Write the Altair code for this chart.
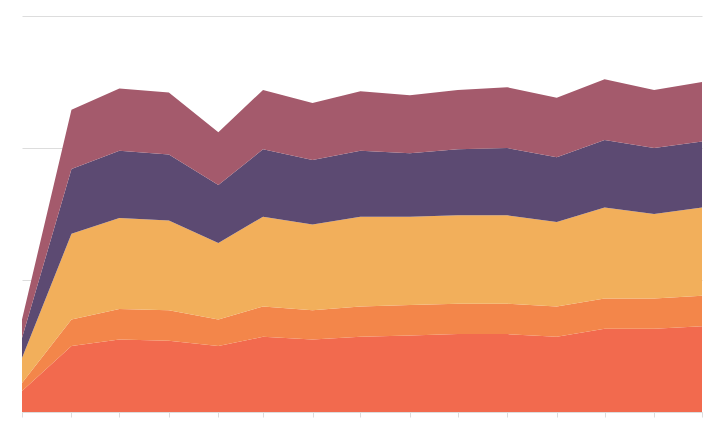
import altair as alt
import pandas as pd

dates = ["2018-10-01", "2018-11-01", "2018-12-01", "2019-01-01", "2019-02-01",
         "2019-03-01", "2019-04-01", "2019-05-01", "2019-06-01", "2019-07-01",
         "2019-08-01", "2019-09-01", "2019-10-01", "2019-11-01", "2019-12-01"]

series_names = ["A", "B", "C", "D", "E"]
series_colors = ["#f26a4e", "#f3864a", "#f2af5b", "#5c4a72", "#a45a6c"]

s_a = [16, 50, 55, 54, 50, 57, 55, 57, 58, 59, 59, 57, 63, 63, 65]
s_b = [6, 20, 23, 23, 20, 23, 22, 23, 23, 23, 23, 23, 23, 23, 23]
s_c = [19, 65, 69, 68, 58, 68, 65, 68, 67, 67, 67, 64, 69, 64, 67]
s_d = [15, 49, 51, 50, 44, 51, 49, 50, 48, 50, 51, 49, 51, 50, 50]
s_e = [14, 45, 47, 47, 40, 45, 43, 45, 44, 45, 46, 45, 46, 44, 45]

rows = []
for idx, (name, vals) in enumerate(zip(series_names, [s_a, s_b, s_c, s_d, s_e])):
    for d, v in zip(dates, vals):
        rows.append({"date": d, "series": name, "idx": idx, "value": v})
df = pd.DataFrame(rows)

chart = alt.Chart(df).mark_area(opacity=1).encode(
    x=alt.X("date:T",
            scale=alt.Scale(type="utc", nice=False),
            axis=alt.Axis(title=None, labels=False, grid=False,
                          tickCount={"interval": "month", "step": 1},
                          ticks=True, tickSize=5, tickColor="#dddddd",
                          domain=True, domainColor="#dddddd")),
    y=alt.Y("value:Q", stack="zero",
            scale=alt.Scale(domain=[0, 300], nice=False),
            axis=alt.Axis(title=None, labels=False, ticks=False, domain=False,
                          values=[0, 100, 200, 300], grid=True,
                          gridColor="#dddddd")),
    color=alt.Color("series:N",
                    scale=alt.Scale(domain=series_names, range=series_colors),
                    legend=None),
    order=alt.Order("idx:Q", sort="ascending"),
).properties(
    width=680, height=396,
    autosize=alt.AutoSizeParams(type="none"),
    padding={"left": 14, "top": 8, "right": 13, "bottom": 27},
).configure_view(stroke=None)

chart.save("out.html", embed_options={"renderer": "svg", "actions": False})
